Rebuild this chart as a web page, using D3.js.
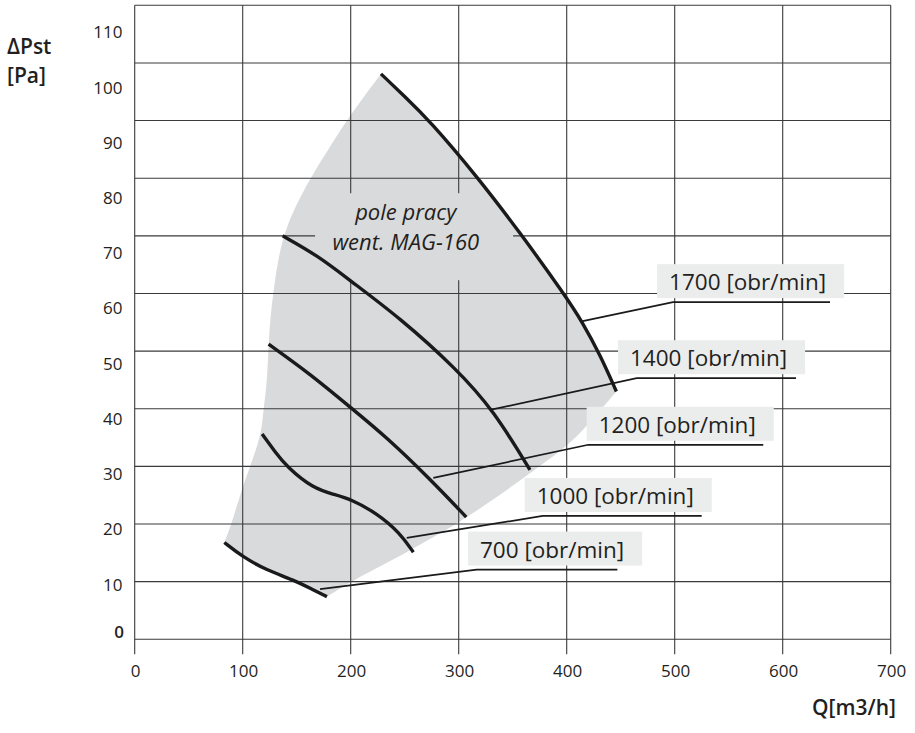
<!DOCTYPE html>
<html>
<head>
<meta charset="utf-8">
<script src="https://cdn.jsdelivr.net/npm/d3@7"></script>
<style>
  body { margin: 0; background: #fff; }
  svg { display: block; }
  text { font-family: "Open Sans", sans-serif; fill: #231f20; }
</style>
</head>
<body>
<div id="chart"></div>
<script>
// axis ticks
const xTicks = [0, 100, 200, 300, 400, 500, 600, 700];
const yTicks = [0, 10, 20, 30, 40, 50, 60, 70, 80, 90, 100, 110];

// fan curves, [Q m3/h, dPst Pa]
const curve700  = [[83, 16.8], [100, 14.3], [122, 12.0], [147, 10.3], [165, 8.6], [178, 7.4]];
const curve1000 = [[118, 35.6], [130, 32.5], [141, 29.9], [165, 26.2], [185, 25.1], [200, 24.3], [224, 21.9], [246, 18.4], [258, 15.1]];
const curve1200 = [[124, 51.2], [162, 46.1], [200, 40.2], [233, 35.1], [273, 27.9], [307, 21.2]];
const curve1400 = [[137, 70], [170, 66.5], [199, 62.3], [246, 55.7], [298, 46.9], [332, 39.8], [366, 29.4]];
const curve1700 = [[228, 98.1], [250, 94.2], [273, 90.0], [317, 80.3], [357, 70.5], [398, 59.8], [415, 54.9], [431, 49.3], [446, 43.0]];

// working field edges
const fieldLeft  = [[83, 16.8], [89.8, 20.1], [100, 26.5], [106.7, 29.9], [117.6, 35.7], [119.1, 39.9], [122.2, 43.8],
                    [123.7, 49.9], [125.3, 55.4], [128.3, 60], [131.5, 64.6], [139.2, 71.6], [162.3, 80], [180.8, 85.4],
                    [196.3, 90.1], [228, 98.1]];
const fieldRight = [[446, 43.0], [418.5, 36.9], [400, 33.4], [365.9, 28.8], [332, 24.2], [301.2, 20.4],
                    [264.2, 16.4], [233.3, 13.2], [201, 10.1], [178, 7.4]];

// speed labels: leader from curve point to knee, underline to endX
const speedLabels = [
  { text: "1700 [obr/min]", anchor: [414.8, 55.2], knee: [498.4, 58.5], endX: 643.8, textX: 494.8 },
  { text: "1400 [obr/min]", anchor: [329, 39.8],   knee: [464.8, 45.3], endX: 612.3, textX: 458.6 },
  { text: "1200 [obr/min]", anchor: [276.5, 28.0], knee: [420, 33.75],  endX: 582,   textX: 429.6 },
  { text: "1000 [obr/min]", anchor: [251.9, 17.6], knee: [377.8, 21.4], endX: 525,   textX: 372.2 },
  { text: "700 [obr/min]",  anchor: [171.6, 8.7],  knee: [316.7, 12.1], endX: 446.9, textX: 319.7 }
];

const fieldTitle = ["pole pracy", "went. MAG-160"];
const fieldTitleAt = [251, 72.8, 67.5];         // x, baseline of each line
const fieldTitleBox = [167, 350.4, 77.4, 62.3]; // x0, x1, y0, y1

const W = 915, H = 733;
const x = d3.scaleLinear().domain([0, 700]).range([134.7, 890.7]);
const y = d3.scaleLinear().domain([0, 110]).range([639.3, 5.3]);
// tick labels of the original sit on their own, slightly tighter spacing
const yLab = d3.scaleLinear().domain([10, 110]).range([y(10) + 9, y(110) + 33]);

const svg = d3.select("#chart").append("svg").attr("width", W).attr("height", H);
svg.append("rect").attr("width", W).attr("height", H).attr("fill", "#fff");

const line = d3.line().x(d => x(d[0])).y(d => y(d[1])).curve(d3.curveBasis);
const seg = pts => line(pts).replace(/^M/, "L");

const fieldPath = line(fieldLeft) + seg(curve1700) + seg(fieldRight) + seg(curve700.slice().reverse()) + "Z";

svg.append("clipPath").attr("id", "field-clip").append("path").attr("d", fieldPath);

// shaded working field
svg.append("path").attr("d", fieldPath).attr("fill", "#d9dadb");

// grid
const grid = svg.append("g").attr("stroke", "#3a3a3a").attr("stroke-width", 1.1);
grid.selectAll("line.h").data(yTicks).join("line")
  .attr("x1", x(0)).attr("x2", x(700))
  .attr("y1", d => y(d)).attr("y2", d => y(d));
grid.selectAll("line.v").data(xTicks).join("line")
  .attr("x1", d => x(d)).attr("x2", d => x(d))
  .attr("y1", y(110)).attr("y2", y(0) + 15);

// field title (its backing only hides the grid inside the field)
svg.append("rect")
  .attr("clip-path", "url(#field-clip)")
  .attr("x", x(fieldTitleBox[0])).attr("width", x(fieldTitleBox[1]) - x(fieldTitleBox[0]))
  .attr("y", y(fieldTitleBox[2])).attr("height", y(fieldTitleBox[3]) - y(fieldTitleBox[2]))
  .attr("fill", "#d9dadb");
svg.selectAll("text.ft").data(fieldTitle).join("text")
  .attr("class", "ft")
  .attr("x", x(fieldTitleAt[0]))
  .attr("y", (d, i) => y(fieldTitleAt[i + 1]))
  .attr("text-anchor", "middle")
  .style("font-style", "italic")
  .style("font-size", "22px")
  .text(d => d);

// curves
svg.append("g").selectAll("path")
  .data([curve700, curve1000, curve1200, curve1400, curve1700])
  .join("path")
    .attr("d", line)
    .attr("fill", "none")
    .attr("stroke", "#1a1a1a")
    .attr("stroke-width", 3.4);

// speed labels
const lab = svg.append("g").selectAll("g").data(speedLabels).join("g");
lab.append("path")
  .attr("d", d => `M${x(d.anchor[0])},${y(d.anchor[1])}L${x(d.knee[0])},${y(d.knee[1])}L${x(d.endX)},${y(d.knee[1])}`)
  .attr("fill", "none")
  .attr("stroke", "#1a1a1a")
  .attr("stroke-width", 1.7);
lab.append("rect").attr("fill", "#ebecec");
const texts = lab.append("text")
  .attr("x", d => x(d.textX))
  .attr("y", d => y(d.knee[1]) - 12)
  .style("font-size", "22.5px")
  .text(d => d.text);
texts.each(function(d) {
  const w = this.getComputedTextLength();
  d3.select(this.parentNode).select("rect")
    .attr("x", x(d.textX) - 12).attr("width", w + 30)
    .attr("y", y(d.knee[1]) - 38).attr("height", 34);
});

// tick labels
svg.append("g").selectAll("text").data(xTicks).join("text")
  .attr("x", d => x(d) + 1)
  .attr("y", 677)
  .attr("text-anchor", "middle")
  .style("font-size", "17px")
  .text(d => d);
svg.append("g").selectAll("text").data(yTicks).join("text")
  .attr("x", d => d === 0 ? 124 : 122.5)
  .attr("y", d => d === 0 ? y(0) - 1 : yLab(d))
  .attr("text-anchor", "end")
  .style("font-size", "17px")
  .style("font-weight", d => d === 0 ? 600 : 400)
  .text(d => d);

// axis titles
svg.append("text").attr("x", 7).attr("y", 54).style("font-size", "21px").style("font-weight", 600).text("ΔPst");
svg.append("text").attr("x", 7).attr("y", 83).style("font-size", "21px").style("font-weight", 600).text("[Pa]");
svg.append("text").attr("x", 896).attr("y", 715).attr("text-anchor", "end")
  .style("font-size", "21px").style("font-weight", 600).text("Q[m3/h]");
</script>
</body>
</html>
